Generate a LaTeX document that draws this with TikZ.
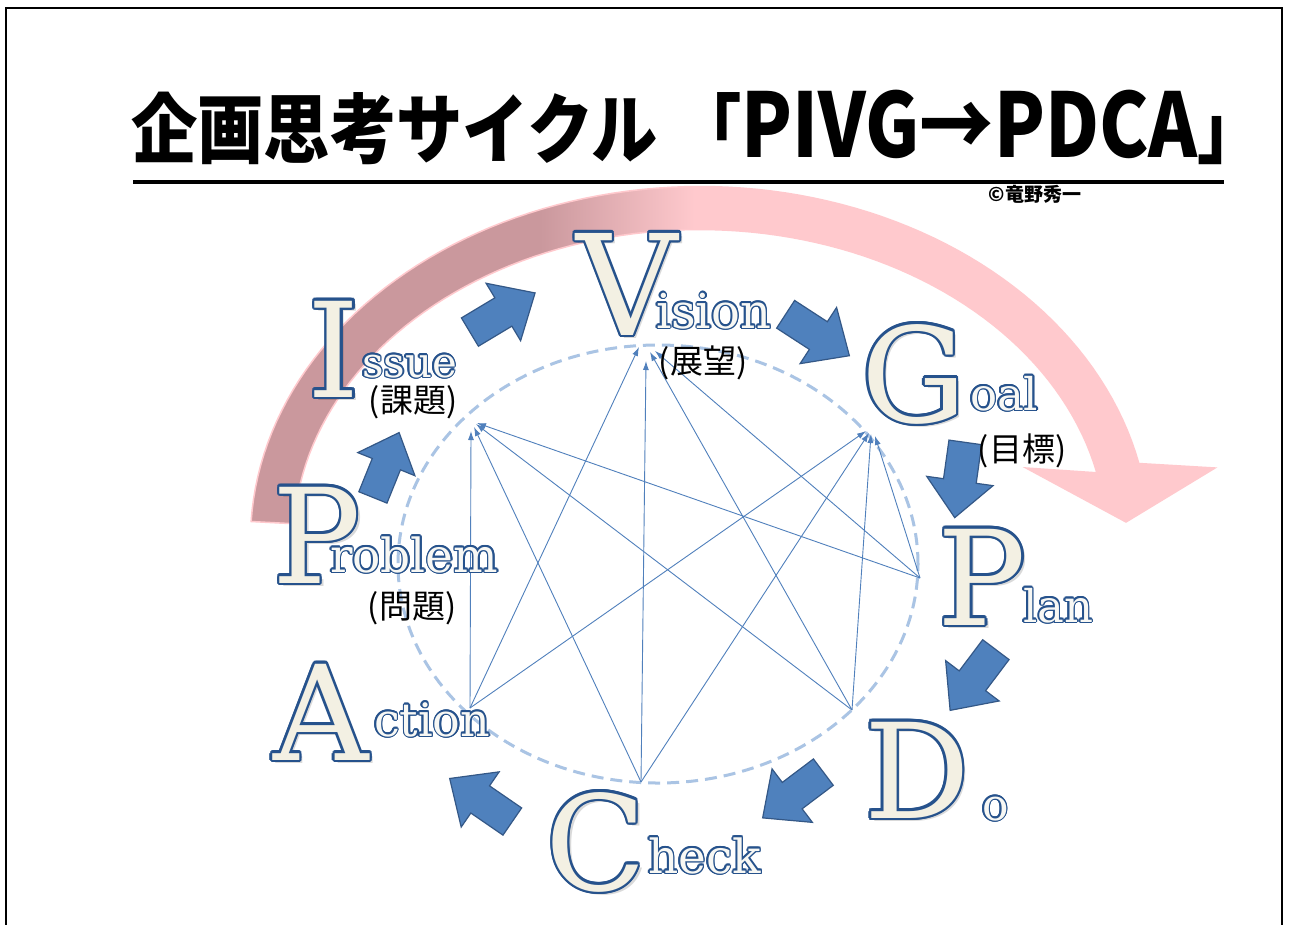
\documentclass[tikz,border=0pt]{standalone}
\usepackage{fontspec}
\usepackage{graphicx}
\usetikzlibrary{arrows.meta}
\newfontfamily\lserif{DejaVu Serif}
\newfontfamily\cjk{Noto Sans CJK JP}
\definecolor{oblue}{RGB}{38,82,140}
\definecolor{cream}{RGB}{243,240,227}
\definecolor{sfill}{RGB}{248,248,244}
\definecolor{afill}{RGB}{79,129,189}
\definecolor{aedge}{RGB}{52,88,135}
\definecolor{lblue}{RGB}{80,128,188}
\definecolor{dashc}{RGB}{170,196,228}
\definecolor{rosed}{RGB}{202,152,157}
\definecolor{pinkl}{RGB}{255,201,205}
\pgfdeclarehorizontalshading{pinkband}{100bp}{color(0bp)=(rosed); color(25bp)=(rosed); color(40bp)=(rosed); color(48bp)=(pinkl); color(75bp)=(pinkl); color(100bp)=(pinkl)}
\tikzset{
  otxt/.style={inner sep=0pt, outer sep=0pt},
  blockarrow/.style={fill=afill, draw=aedge, line width=1.2pt, line join=miter},
  link/.style={draw=lblue, line width=0.9pt, -{Latex[length=9pt,width=6pt]}},
  jlab/.style={inner sep=0pt, font=\cjk\fontsize{33pt}{33pt}\selectfont},
}
% big outlined letter with shadow: #1 name, #2 x,y, #3 size, #4 text
\newcommand\BigLet[4]{%
  \node[otxt, anchor=base, font=\lserif\fontsize{#3pt}{#3pt}\selectfont, text=black, opacity=0.15] at ([shift={(3.5,3.5)}]#2) {#4};
  \foreach \oa in {0,30,...,330}{%
    \node[otxt, anchor=base, font=\lserif\fontsize{#3pt}{#3pt}\selectfont, text=oblue] at ([shift={(\oa:2.4)}]#2) {#4};}%
  \node[otxt, anchor=base, font=\lserif\fontsize{#3pt}{#3pt}\selectfont, text=cream] (#1) at (#2) {#4};
}
% small outlined word: #1 name, #2 x,y, #3 size, #4 text
\newcommand\SmlLet[4]{%
  \foreach \oa in {0,30,...,330}{%
    \node[otxt, anchor=base west, font=\lserif\fontsize{#3pt}{#3pt}\selectfont, text=oblue] at ([shift={(\oa:1.5)}]#2) {#4};}%
  \node[otxt, anchor=base west, font=\lserif\fontsize{#3pt}{#3pt}\selectfont, text=sfill] (#1) at (#2) {#4};
}
% block arrow: #1 x,y centre, #2 angle, #3 scale
\newcommand\Blk[3]{%
  \path[blockarrow, shift={(#1)}, rotate=#2, scale=#3]
    (-38,-16.5) -- (1,-16.5) -- (1,-33.5) -- (38,0) -- (1,33.5) -- (1,16.5) -- (-38,16.5) -- cycle;
}
\begin{document}
\begin{tikzpicture}[x=1pt,y=-1pt]
\useasboundingbox (0,0) rectangle (1289,924);
\fill[white] (0,0) rectangle (1289,924);
% frame
\draw[line width=2pt] (6,940) -- (6,8) -- (1282,8) -- (1282,940);
% title
\node[anchor=base west, inner sep=0pt] (title) at (131,157)
  {\scalebox{0.872}[1]{\cjk\bfseries\fontsize{76pt}{76pt}\selectfont 企画思考サイクル\hspace{0.26em}「\scalebox{1.12}[1.17]{PIVG→PDCA}」}};
\draw[line width=3.5pt] (133,182) -- (1224,182);
\node[inner sep=0pt, font=\cjk\bfseries\fontsize{19pt}{19pt}\selectfont] (copy) at (1035,194) {©竜野秀一};
% pink curved arrow
\shadedraw[shading=pinkband, draw=pinkl, line width=1.5pt]
  plot[domain=177:12.5, samples=90] ({700+449.5*cos(\x)},{540-353.5*sin(\x)})
  -- (1215,468) -- (1126,522) -- (1026,468)
  -- plot[domain=12.5:177, samples=90] ({700+406.5*cos(\x)},{540-310.5*sin(\x)}) -- cycle;
% dashed ellipse
\draw[dashc, line width=3pt, dash pattern=on 12pt off 7pt] (658,564) ellipse [x radius=260pt, y radius=219pt];
% vertices
\coordinate (A) at (470,708);
\coordinate (C) at (641,782);
\coordinate (D) at (852,710);
\coordinate (Pr) at (920,578);
\coordinate (Ia) at (471,431);
\coordinate (Ic) at (474,427);
\coordinate (Id) at (476,424);
\coordinate (Ip) at (477,423);
\coordinate (Va) at (639,347);
\coordinate (Vc) at (646,361);
\coordinate (Vd) at (650,352);
\coordinate (Vp) at (655,351);
\coordinate (Ga) at (866,431);
\coordinate (Gc) at (869,433);
\coordinate (Gd) at (871,434);
\coordinate (Gp) at (875,436);
\draw[link] (A) -- (Ia);
\draw[link] (A) -- (Va);
\draw[link] (A) -- (Ga);
\draw[link] (C) -- (Ic);
\draw[link] (C) -- (Vc);
\draw[link] (C) -- (Gc);
\draw[link] (D) -- (Id);
\draw[link] (D) -- (Vd);
\draw[link] (D) -- (Gd);
\draw[link] (Pr) -- (Ip);
\draw[link] (Pr) -- (Vp);
\draw[link] (Pr) -- (Gp);
% block arrows
\Blk{386,465}{68}{0.92}
\Blk{502.5,312.5}{31}{1}
\Blk{817.5,335}{-33}{1}
\Blk{960,480}{-98}{1}
\Blk{973,680}{233}{1}
\Blk{793,795}{217}{1}
\Blk{481,800}{145.5}{1}
% small words
\SmlLet{ssue}{362,377}{42}{ssue}
\SmlLet{ision}{656,328}{48}{ision}
\SmlLet{oal}{970,410}{45}{oal}
\SmlLet{lan}{1023,622}{45}{lan}
\SmlLet{roblem}{330,572}{47}{roblem}
\SmlLet{ction}{374,736}{46}{ction}
\SmlLet{heck}{648,873}{47}{heck}
\SmlLet{o}{982,820}{44}{o}
% big letters
\BigLet{I}{334,397}{132}{I}
\BigLet{V}{627,335}{140}{V}
\BigLet{G}{914,422}{132}{G}
\BigLet{Pl}{982,625}{132}{P}
\BigLet{Pb}{317,583}{132}{P}
\BigLet{Ac}{321,760}{132}{A}
\BigLet{Ch}{596,890}{132}{C}
\BigLet{Do}{917,818}{132}{D}
% Japanese labels
\node[jlab] (kadai) at (413,402) {(課題)};
\node[jlab] (tenbo) at (703,363) {(展望)};
\node[jlab] (mokuhyo) at (1022,451) {(目標)};
\node[jlab] (mondai) at (412,608) {(問題)};
\end{tikzpicture}
\end{document}
